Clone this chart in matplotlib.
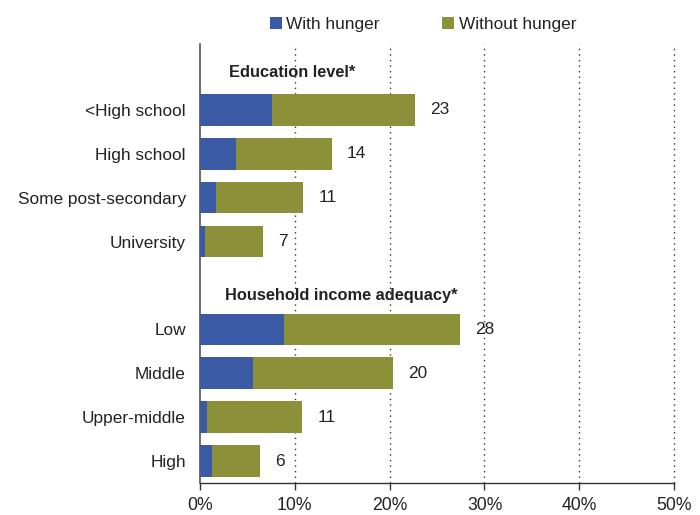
import matplotlib
matplotlib.use("Agg")
import matplotlib.pyplot as plt
from matplotlib.patches import Patch

plt.rcParams['font.family'] = ['Liberation Sans', 'DejaVu Sans']

categories = ["<High school", "High school", "Some post-secondary", "University",
              "Low", "Middle", "Upper-middle", "High"]
with_hunger = [7.6, 3.8, 1.7, 0.6, 8.9, 5.6, 0.8, 1.3]
totals = [22.7, 13.9, 10.9, 6.7, 27.4, 20.4, 10.8, 6.35]
without_hunger = [t - w for t, w in zip(totals, with_hunger)]
total_labels = ["23", "14", "11", "7", "28", "20", "11", "6"]
positions = [0, 1, 2, 3, 5, 6, 7, 8]
groups = ["Education level*", "Household income adequacy*"]
group_pos = [-0.84, 4.24]
group_x = [3.1, 2.7]
xticks = [0, 10, 20, 30, 40, 50]
xtick_labels = ["0%", "10%", "20%", "30%", "40%", "50%"]

blue = "#3B5AA6"
olive = "#8C9038"
text_col = "#222222"
fs = 12.4

fig = plt.figure(figsize=(7.0, 5.15), dpi=100)
ax = fig.add_axes([0.2853, 0.0621, 0.6780, 0.8525])

h = 0.72
ax.barh(positions, with_hunger, height=h, color=blue, edgecolor='none', zorder=3, label="With hunger")
ax.barh(positions, without_hunger, left=with_hunger, height=h, color=olive, edgecolor='none', zorder=3,
        label="Without hunger")

for p, t, lab in zip(positions, totals, total_labels):
    ax.annotate(lab, xy=(t, p), xytext=(11, 0), textcoords='offset points',
                ha='left', va='center', fontsize=fs, color=text_col)

for g, gp, gx in zip(groups, group_pos, group_x):
    ax.text(gx, gp, g, ha='left', va='center', fontsize=11.8, fontweight='bold', color=text_col)

ax.set_xlim(0, 50)
ax.set_ylim(8.5, -1.5)
ax.set_yticks(positions)
ax.set_yticklabels(categories, fontsize=fs, color=text_col)
ax.tick_params(axis='y', length=0, pad=10)
ax.set_xticks(xticks)
ax.set_xticklabels(xtick_labels, fontsize=fs + 0.3, color=text_col)
ax.tick_params(axis='x', direction='out', length=5, width=1, color='#333333', pad=5)

for x in xticks[1:]:
    ax.axvline(x, color='#333333', linestyle=(0, (1, 3)), linewidth=1, zorder=1, clip_on=False)

for s in ['top', 'right']:
    ax.spines[s].set_visible(False)
ax.spines['left'].set_color('#555555')
ax.spines['bottom'].set_color('#333333')
ax.spines['left'].set_linewidth(1.2)
ax.spines['bottom'].set_linewidth(1)

handles = [Patch(facecolor=blue, edgecolor='none'), Patch(facecolor=olive, edgecolor='none')]
fig.legend(handles, ["With hunger", "Without hunger"], loc='center', bbox_to_anchor=(0.604, 0.953),
           ncol=2, frameon=False, fontsize=fs, handlelength=0.72, handleheight=0.72,
           handletextpad=0.25, columnspacing=3.6, labelcolor=text_col)

fig.savefig("out.png", dpi=100)
